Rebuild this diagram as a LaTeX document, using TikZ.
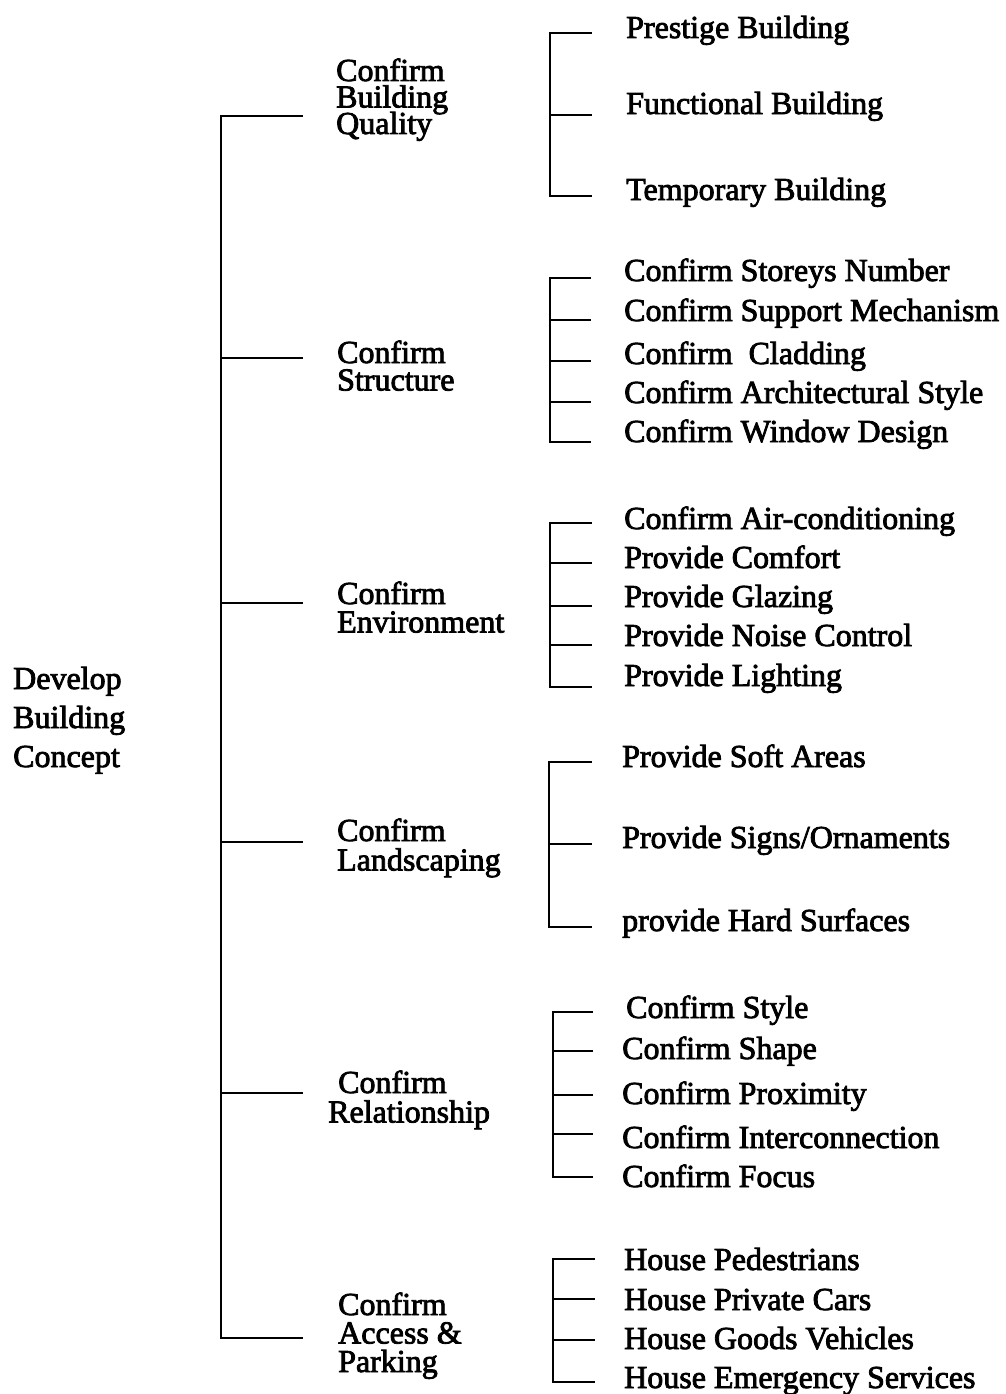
\documentclass[tikz,border=0pt]{standalone}
\usepackage{fontspec}
\setmainfont{Liberation Serif}[FakeBold=2.5]
% stacked lines with a fixed distance between baselines; the box's
% baseline is that of its first line
\newcommand{\rows}[2]{\vtop{\baselineskip=#1\lineskiplimit=-\maxdimen\lineskip=0pt
  \halign{##\hfil\cr#2\crcr}}}
\begin{document}
\begin{tikzpicture}[x=1pt,y=-1pt,
  txt/.style={anchor=base west, inner sep=0pt, font=\fontsize{32}{32}\selectfont},
  wire/.style={line width=1.8pt, line cap=butt, line join=miter}]
\useasboundingbox (0,0) rectangle (1005,1394);

% ---- root ----
\node[txt] (root) at (13,689) {\rows{39pt}{Develop\cr Building\cr Concept}};

% ---- trunk and first-level branches ----
\coordinate (t1) at (221,116);  \coordinate (b1) at (303,116);
\coordinate (t2) at (221,358);  \coordinate (b2) at (303,358);
\coordinate (t3) at (221,603);  \coordinate (b3) at (303,603);
\coordinate (t4) at (221,842);  \coordinate (b4) at (303,842);
\coordinate (t5) at (221,1093); \coordinate (b5) at (303,1093);
\coordinate (t6) at (221,1338); \coordinate (b6) at (303,1338);
\draw[wire] (b1) -- (t1) -- (t6) -- (b6);
\foreach \i in {2,...,5} \draw[wire] (t\i) -- (b\i);

% ---- second-level labels ----
\node[txt] (quality)   at (336,81)   {\rows{26.5pt}{Confirm\cr Building\cr Quality}};
\node[txt] (structure) at (337,363)  {\rows{27.5pt}{Confirm\cr Structure}};
\node[txt] (environ)   at (337,604)  {\rows{28.5pt}{Confirm\cr Environment}};
\node[txt] (landscape) at (337,841)  {\rows{29.5pt}{Confirm\cr Landscaping}};
\node[txt] (relation)  at (328,1093) {\rows{29.5pt}{\hspace{10pt}Confirm\cr Relationship}};
\node[txt] (access)    at (338,1315) {\rows{28.5pt}{Confirm\cr Access \&\cr Parking}};

% ---- brackets: top tick, spine, bottom tick, inner ticks ----
% quality
\coordinate (q0) at (550,33);  \coordinate (q0e) at (592,33);
\coordinate (q1) at (550,115); \coordinate (q1e) at (592,115);
\coordinate (q2) at (550,196); \coordinate (q2e) at (592,196);
\draw[wire] (q0e) -- (q0) -- (q2) -- (q2e);
\draw[wire] (q1) -- (q1e);
\node[txt] (prestige)   at (626,38)  {Prestige Building};
\node[txt] (functional) at (626,114) {Functional Building};
\node[txt] (temporary)  at (626,200) {Temporary Building};

% structure
\foreach \n/\y in {0/278,1/320,2/361,3/402,4/442} {
  \coordinate (s\n) at (550,\y); \coordinate (s\n e) at (591,\y);}
\draw[wire] (s0e) -- (s0) -- (s4) -- (s4e);
\foreach \n in {1,2,3} \draw[wire] (s\n) -- (s\n e);
\node[txt] (storeys)  at (624,281) {Confirm Storeys Number};
\node[txt] (support)  at (624,321) {Confirm Support Mechanism};
\node[txt] (cladding) at (624,364) {Confirm\ \ Cladding};
\node[txt] (archstyle) at (624,403) {Confirm Architectural Style};
\node[txt] (window)   at (624,442) {Confirm Window Design};

% environment
\foreach \n/\y in {0/523,1/563,2/606,3/645,4/687} {
  \coordinate (e\n) at (550,\y); \coordinate (e\n e) at (592,\y);}
\draw[wire] (e0e) -- (e0) -- (e4) -- (e4e);
\foreach \n in {1,2,3} \draw[wire] (e\n) -- (e\n e);
\node[txt] (aircon)   at (624,529) {Confirm Air-conditioning};
\node[txt] (comfort)  at (624,568) {Provide Comfort};
\node[txt] (glazing)  at (624,607) {Provide Glazing};
\node[txt] (noise)    at (624,646) {Provide Noise Control};
\node[txt] (lighting) at (624,686) {Provide Lighting};

% landscaping
\foreach \n/\y in {0/762,1/844,2/927} {
  \coordinate (l\n) at (549,\y); \coordinate (l\n e) at (592,\y);}
\draw[wire] (l0e) -- (l0) -- (l2) -- (l2e);
\draw[wire] (l1) -- (l1e);
\node[txt] (soft)  at (622,767) {Provide Soft Areas};
\node[txt] (signs) at (622,848) {Provide Signs/Ornaments};
\node[txt] (hard)  at (622,931) {provide Hard Surfaces};

% relationship
\foreach \n/\y in {0/1012,1/1051,2/1095,3/1134,4/1177} {
  \coordinate (r\n) at (553,\y); \coordinate (r\n e) at (593,\y);}
\draw[wire] (r0e) -- (r0) -- (r4) -- (r4e);
\foreach \n in {1,2,3} \draw[wire] (r\n) -- (r\n e);
\node[txt] (cstyle)    at (626,1018) {Confirm Style};
\node[txt] (shape)     at (622,1059) {Confirm Shape};
\node[txt] (proximity) at (622,1104) {Confirm Proximity};
\node[txt] (interconn) at (622,1148) {Confirm Interconnection};
\node[txt] (focus)     at (622,1187) {Confirm Focus};

% access & parking
\foreach \n/\y in {0/1259,1/1299,2/1340,3/1382} {
  \coordinate (a\n) at (553,\y); \coordinate (a\n e) at (595,\y);}
\draw[wire] (a0e) -- (a0) -- (a3) -- (a3e);
\foreach \n in {1,2} \draw[wire] (a\n) -- (a\n e);
\node[txt] (pedestrians) at (624,1270) {House Pedestrians};
\node[txt] (cars)        at (624,1310) {House Private Cars};
\node[txt] (goods)       at (624,1349) {House Goods Vehicles};
\node[txt] (emergency)   at (624,1388) {House Emergency Services};
\end{tikzpicture}
\end{document}
